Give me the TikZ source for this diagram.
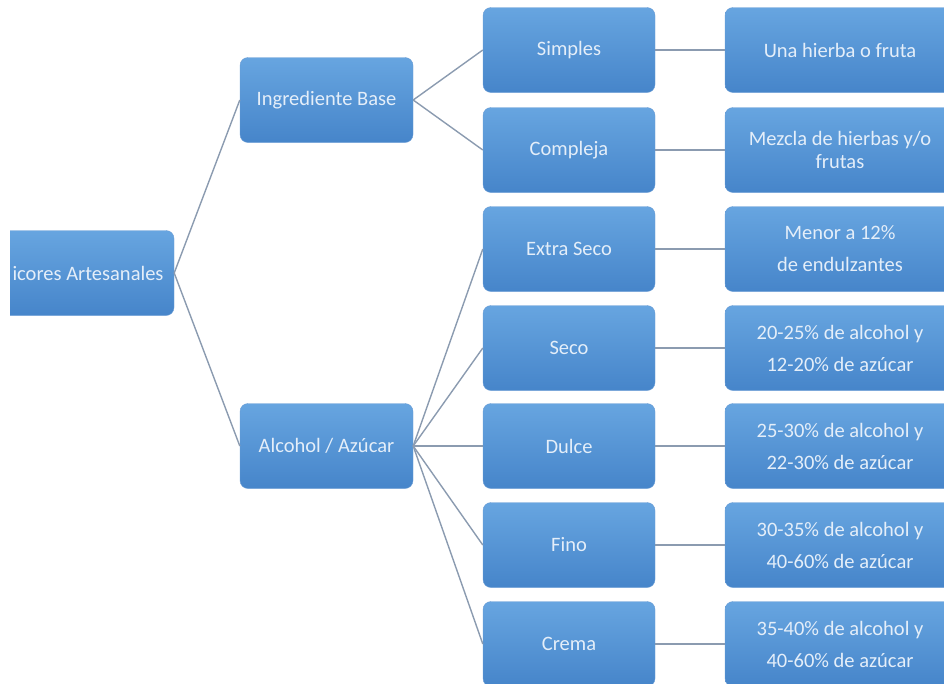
\documentclass[tikz,border=0pt]{standalone}
\usepackage{fontspec}
\setmainfont{Carlito}
\definecolor{boxtop}{HTML}{67A5E0}
\definecolor{boxbot}{HTML}{4685CA}
\definecolor{boxtxt}{HTML}{E4EEF9}
\definecolor{linkc}{HTML}{8B9BB0}
\begin{document}
\begin{tikzpicture}[x=1pt,y=-1pt,
  box/.style={rounded corners=8pt, top color=boxtop, bottom color=boxbot,
    draw=boxbot!80!white, line width=0.4pt, text=boxtxt, align=center,
    font=\fontsize{20.5}{23}\selectfont, inner sep=0pt,
    minimum height=85pt},
  lvlone/.style={box, minimum width=173pt},
  lvltwo/.style={box, minimum width=172pt},
  lvlthree/.style={box, minimum width=230pt},
  wide/.style={font=\fontsize{20.5}{32}\selectfont},
  link/.style={draw=linkc, line width=1.4pt}]
\useasboundingbox (0,0) rectangle (944,683);
\begin{scope}
\clip (0,0) rectangle (944,683);
\begin{scope}
\clip (10,0) rectangle (944,683);
\node[box, minimum width=172pt] (root) at (88,273) {icores Artesanales};
\end{scope}
\node[lvlone] (ing) at (326.5,100) {Ingrediente Base};
\node[lvlone] (alc) at (326.5,446) {Alcohol / Azúcar};

\node[lvltwo] (sim) at (569,50) {Simples};
\node[lvltwo] (com) at (569,150) {Compleja};
\node[lvltwo] (ext) at (569,249) {Extra Seco};
\node[lvltwo] (sec) at (569,348) {Seco};
\node[lvltwo] (dul) at (569,446) {Dulce};
\node[lvltwo] (fin) at (569,545) {Fino};
\node[lvltwo] (cre) at (569,644) {Crema};

\node[lvlthree] (una) at (840,50) {Una hierba o fruta};
\node[lvlthree] (mez) at (840,150) {Mezcla de hierbas y/o\\frutas};
\node[lvlthree, wide] (men) at (840,249) {Menor a 12\%\\de endulzantes};
\node[lvlthree, wide] (dsec) at (840,348) {20-25\% de alcohol y\\12-20\% de azúcar};
\node[lvlthree, wide] (ddul) at (840,446) {25-30\% de alcohol y\\22-30\% de azúcar};
\node[lvlthree, wide] (dfin) at (840,545) {30-35\% de alcohol y\\40-60\% de azúcar};
\node[lvlthree, wide] (dcre) at (840,644) {35-40\% de alcohol y\\40-60\% de azúcar};

\path[link] (root.east) -- (ing.west);
\path[link] (root.east) -- (alc.west);
\path[link] (ing.east) -- (sim.west);
\path[link] (ing.east) -- (com.west);
\foreach \t in {ext,sec,dul,fin,cre} \path[link] (alc.east) -- (\t.west);
\path[link] (sim.east) -- (una.west);
\path[link] (com.east) -- (mez.west);
\path[link] (ext.east) -- (men.west);
\path[link] (sec.east) -- (dsec.west);
\path[link] (dul.east) -- (ddul.west);
\path[link] (fin.east) -- (dfin.west);
\path[link] (cre.east) -- (dcre.west);
\end{scope}
\end{tikzpicture}
\end{document}
